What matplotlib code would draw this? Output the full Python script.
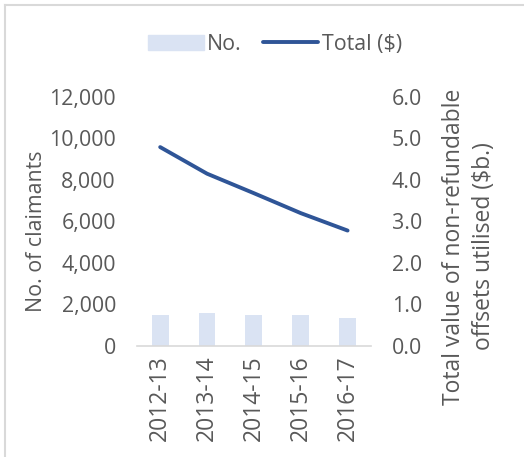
import matplotlib
matplotlib.use("Agg")
import matplotlib.pyplot as plt
from matplotlib.lines import Line2D
from matplotlib.ticker import FuncFormatter

years = ["2012-13", "2013-14", "2014-15", "2015-16", "2016-17"]
claimants = [1480, 1590, 1480, 1480, 1340]
total_value = [4.79, 4.15, 3.68, 3.20, 2.78]

plt.rcParams['font.family'] = ['Open Sans', 'DejaVu Sans']
gray = '#595959'
fs = 15.4

fig = plt.figure(figsize=(5.24, 4.57), dpi=100)
ax = fig.add_axes([0.261, 0.243, 0.447, 0.545])
ax2 = ax.twinx()

x = list(range(len(years)))
ax.bar(x, claimants, width=0.36, color='#dae3f3', zorder=1, label='No.')
ax2.plot(x, total_value, color='#2f5597', lw=2.8, solid_capstyle='round',
         solid_joinstyle='round', label='Total ($)')

ax.set_xlim(-0.5, len(years) - 0.5)
ax.set_ylim(0, 12000)
ax2.set_ylim(0, 6)
ax.set_yticks(range(0, 12001, 2000))
ax2.set_yticks([0, 1, 2, 3, 4, 5, 6])
ax.yaxis.set_major_formatter(FuncFormatter(lambda v, p: f"{int(v):,}"))
ax2.yaxis.set_major_formatter(FuncFormatter(lambda v, p: f"{v:.1f}"))
ax.set_xticks(x)
ax.set_xticklabels(years, rotation=90)

for a in (ax, ax2):
    for s in a.spines.values():
        s.set_visible(False)
    a.tick_params(length=0, colors=gray, labelsize=fs)
ax.spines['bottom'].set_visible(True)
ax.spines['bottom'].set_color('#d9d9d9')
ax.spines['bottom'].set_linewidth(1.2)
ax.tick_params(axis='y', pad=15)
ax2.tick_params(axis='y', pad=15)
ax.tick_params(axis='x', pad=7, labelsize=16.5)

ax.set_ylabel("No. of claimants", color=gray, fontsize=15.4)
ax.yaxis.label.set_verticalalignment('center')
ax.yaxis.set_label_coords(-0.427, 0.462)

ax2.set_ylabel("Total value of non-refundable\noffsets utilised ($b.)", color=gray,
               fontsize=16.5, linespacing=1.33)
ax2.yaxis.label.set_verticalalignment('center')
ax2.yaxis.set_label_coords(1.417, 0.40)

handles = [plt.Rectangle((0, 0), 1, 1, color='#dae3f3'),
           Line2D([0], [0], color='#2f5597', lw=2.8, solid_capstyle='round')]
leg = fig.legend(handles, ['No.', 'Total ($)'], loc='center', bbox_to_anchor=(0.525, 0.903),
                 ncol=2, frameon=False, fontsize=fs, labelcolor=gray, handlelength=2.6,
                 handletextpad=0.15, columnspacing=0.97, handleheight=0.7)

fig.add_artist(Line2D([0.009, 0.009], [0, 0.99], transform=fig.transFigure, color='#d9d9d9', lw=1.5))
fig.add_artist(Line2D([0.009, 1], [0.99, 0.99], transform=fig.transFigure, color='#d9d9d9', lw=1.5))

fig.savefig("out.png", dpi=100)
